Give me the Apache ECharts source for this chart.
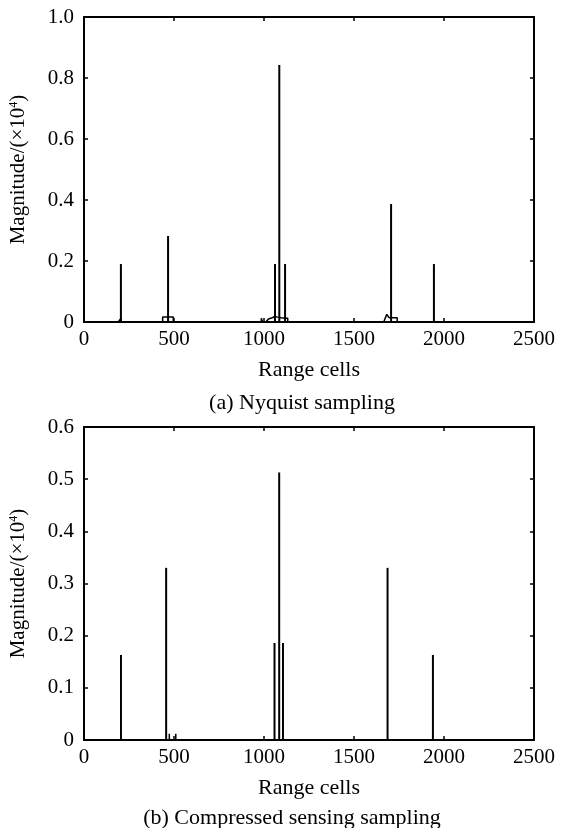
<!DOCTYPE html>
<html><head><meta charset="utf-8">
<script src="https://cdn.jsdelivr.net/npm/echarts@6/dist/echarts.min.js"></script>
<style>html,body{margin:0;padding:0;background:#fff}#c{width:562px;height:828px}</style>
</head><body><div id="c"></div>
<script>
// ---- data ----
const xMin = 0, xMax = 2500, xStep = 500;
const nyqYMax = 1.0, nyqYStep = 0.2;
const csYMax = 0.6, csYStep = 0.1;

// (a) Nyquist sampling: main spikes
const nyqCells = [205, 467, 1061, 1085, 1117, 1706, 1944];
const nyqMag   = [0.19, 0.282, 0.19, 0.843, 0.19, 0.387, 0.19];
// (a) low-level sidelobe structure near the baseline (null = break)
const nyqFloorCells = [190, 200, 205, 208, null,
  437, 437, 496, 496, null,
  985, 985, 992, 992, null,
  1010, 1025, 1045, 1061, 1075, 1085, 1095, 1105, 1117, 1125, 1132, 1132, null,
  1665, 1682, 1695, 1706, 1715, 1740, 1740];
const nyqFloorMag = [0, 0.006, 0.012, 0, null,
  0, 0.016, 0.016, 0, null,
  0, 0.012, 0.012, 0, null,
  0, 0.01, 0.014, 0.018, 0.016, 0.022, 0.014, 0.018, 0.012, 0.012, 0.012, 0, null,
  0, 0.025, 0.014, 0.016, 0.014, 0.014, 0];

// (b) Compressed sensing sampling
const csCells = [204, 455, 1057, 1083, 1104, 1685, 1937];
const csMag   = [0.163, 0.33, 0.186, 0.513, 0.186, 0.33, 0.163];
const csSmallCells = [474, 510];
const csSmallMag   = [0.012, 0.012];

// ---- build ----
const pairs = (xs, ys) => xs.map((x, i) => (x === null ? [null, null] : [x, ys[i]]));
const FONT = 'Liberation Serif';
const FS = 21, FSN = 22;
const black = '#000';

function xAxes(gi) {
  const common = {
    type: 'value', gridIndex: gi, min: xMin, max: xMax, interval: xStep,
    axisLine: { show: true, onZero: false, lineStyle: { color: black, width: 2 } },
    axisTick: { show: true, inside: true, length: 4, lineStyle: { color: black, width: 1.5 } },
    splitLine: { show: false }
  };
  return [
    Object.assign({}, common, {
      position: 'bottom',
      axisLabel: { show: true, color: black, fontFamily: FONT, fontSize: FS, margin: 7,
        formatter: v => String(v) },
      name: 'Range cells', nameLocation: 'middle', nameGap: 37,
      nameTextStyle: { color: black, fontFamily: FONT, fontSize: FSN }
    }),
    Object.assign({}, common, { position: 'top', axisLabel: { show: false } })
  ];
}
function yAxes(gi, max, step) {
  const common = {
    type: 'value', gridIndex: gi, min: 0, max: max, interval: step,
    axisLine: { show: true, onZero: false, lineStyle: { color: black, width: 2 } },
    axisTick: { show: true, inside: true, length: 4, lineStyle: { color: black, width: 1.5 } },
    splitLine: { show: false }
  };
  return [
    Object.assign({}, common, {
      position: 'left',
      axisLabel: { show: true, color: black, fontFamily: FONT, fontSize: FS, margin: 10,
        formatter: v => (v === 0 ? '0' : v.toFixed(1)) },
      name: 'Magnitude/(×10{s|4})', nameLocation: 'middle', nameGap: 55, nameRotate: 90,
      nameTextStyle: { color: black, fontFamily: FONT, fontSize: FS,
        rich: { s: { fontFamily: FONT, fontSize: 12, verticalAlign: 'top', color: black } } }
    }),
    Object.assign({}, common, { position: 'right', axisLabel: { show: false } })
  ];
}

const option = {
  backgroundColor: '#fff',
  animation: false,
  grid: [
    { left: 84, top: 17, width: 450, height: 305 },
    { left: 84, top: 427, width: 450, height: 313 }
  ],
  xAxis: [...xAxes(0), ...xAxes(1)],
  yAxis: [...yAxes(0, nyqYMax, nyqYStep), ...yAxes(1, csYMax, csYStep)],
  series: [
    { type: 'line', xAxisIndex: 0, yAxisIndex: 0, data: pairs(nyqFloorCells, nyqFloorMag),
      showSymbol: false, connectNulls: false, lineStyle: { color: black, width: 1.5 } },
    { type: 'bar', xAxisIndex: 0, yAxisIndex: 0, data: pairs(nyqCells, nyqMag),
      barWidth: 2, itemStyle: { color: black } },
    { type: 'bar', xAxisIndex: 2, yAxisIndex: 2, data: pairs(csCells, csMag),
      barWidth: 2, itemStyle: { color: black } },
    { type: 'bar', xAxisIndex: 2, yAxisIndex: 2, data: pairs(csSmallCells, csSmallMag),
      barWidth: 1.5, barGap: '-100%', itemStyle: { color: black } }
  ],
  graphic: [
    { type: 'text', x: 302, y: 403, style: { text: '(a) Nyquist sampling', fontFamily: FONT, fontSize: FSN, fill: black, align: 'center', verticalAlign: 'middle' } },
    { type: 'text', x: 292, y: 818, style: { text: '(b) Compressed sensing sampling', fontFamily: FONT, fontSize: FSN, fill: black, align: 'center', verticalAlign: 'middle' } }
  ]
};
const chart = echarts.init(document.getElementById('c'), null, { renderer: 'canvas' });
chart.setOption(option);
</script>
</body></html>
